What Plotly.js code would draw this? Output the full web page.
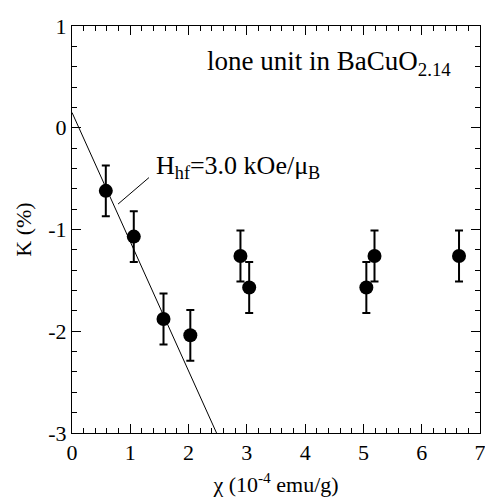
<!DOCTYPE html>
<html><head><meta charset="utf-8">
<script src="https://cdn.plot.ly/plotly-3.0.1.min.js"></script>
<style>html,body{margin:0;padding:0;background:#fff;}</style>
</head><body>
<div id="chart" style="width:485px;height:498px;"></div>
<script>
// Data
const chi = [0.58, 1.06, 1.57, 2.03, 2.89, 3.04, 5.05, 5.19, 6.64];
const K = [-0.62, -1.07, -1.88, -2.04, -1.26, -1.57, -1.57, -1.26, -1.26];
const Kerr = [0.25, 0.25, 0.25, 0.25, 0.25, 0.25, 0.25, 0.25, 0.25];
// fit line (H_hf = 3.0 kOe/muB)
const fitX = [0, 2.48];
const fitY = [0.15, -3];
// label pointer
const ptrX = [0.79, 1.32];
const ptrY = [-0.75, -0.49];
// tick labels
const xTickVals = [0, 1, 2, 3, 4, 5, 6, 7];
const xTickText = ['0', '1', '2', '3', '4', '5', '6', '7'];
const yTickVals = [-3, -2, -1, 0, 1];
const yTickText = ['-3', '-2', '-1', '0', '1'];

const FAM = 'Liberation Serif';
function f(size) { return {family: FAM, size: size, color: '#000'}; }

const traces = [
  {x: fitX, y: fitY, mode: 'lines', line: {color: '#000', width: 1}, hoverinfo: 'skip', showlegend: false},
  {x: ptrX, y: ptrY, mode: 'lines', line: {color: '#000', width: 1}, hoverinfo: 'skip', showlegend: false},
  {x: chi, y: K, mode: 'markers', type: 'scatter',
   marker: {color: '#000', size: 14, symbol: 'circle'},
   error_y: {type: 'data', array: Kerr, visible: true, color: '#000', thickness: 2, width: 4},
   showlegend: false}
];

function axis(extra) {
  return Object.assign({
    showgrid: false, zeroline: false, showline: true, linecolor: '#000', linewidth: 1,
    mirror: 'ticks', ticks: 'inside', ticklen: 9, tickwidth: 1, tickcolor: '#000',
    tickfont: f(22), tickmode: 'array', ticklabeloverflow: 'allow',
    minor: {dtick: 0.2, ticks: 'inside', ticklen: 5, tickcolor: '#000', tickwidth: 1}
  }, extra);
}

const layout = {
  width: 485, height: 498,
  margin: {l: 72, r: 5, t: 26, b: 65},
  paper_bgcolor: '#fff', plot_bgcolor: '#fff',
  font: f(22),
  xaxis: axis({
    range: [0, 7], tickvals: xTickVals, ticktext: xTickText,
    title: {text: 'χ (10<sup>-4</sup> emu/g)', font: f(22), standoff: 12}
  }),
  yaxis: axis({
    range: [-3, 1], tickvals: yTickVals, ticktext: yTickText,
    title: {text: 'K (%)', font: f(22), standoff: 10}
  }),
  annotations: [
    {x: 0.934, y: 0.908, xref: 'paper', yref: 'paper', xanchor: 'right', yanchor: 'middle',
     text: 'lone unit in BaCuO<sub>2.14</sub>', showarrow: false, font: f(27)},
    {x: 1.4, y: -0.39, xref: 'x', yref: 'y', xanchor: 'left', yanchor: 'middle',
     text: 'H<sub>hf</sub>=3.0 kOe/μ<sub>B</sub>', showarrow: false, font: f(26)}
  ]
};

Plotly.newPlot('chart', traces, layout, {displayModeBar: false, staticPlot: true});
</script>
</body></html>
